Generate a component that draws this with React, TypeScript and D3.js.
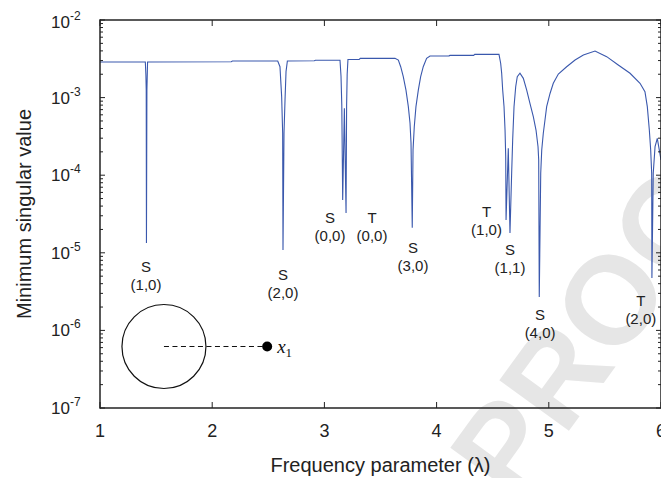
import React from 'react';
import * as d3 from 'd3';

const W = 661;
const H = 478;
const M = { left: 100, right: 0, top: 20, bottom: 70 };

// frequency parameter (lambda)
const freq = [
  1.0, 1.404, 1.409, 1.412, 1.414, 1.418, 1.424,
  2.17, 2.18, 2.584, 2.604, 2.619, 2.628, 2.631, 2.64, 2.649, 2.658, 2.67,
  2.91, 2.92, 3.139, 3.148, 3.155, 3.163, 3.178, 3.193, 3.198, 3.203, 3.21,
  3.31, 3.32, 3.629, 3.659, 3.68, 3.703, 3.727, 3.748, 3.763, 3.772, 3.783,
  3.79, 3.801, 3.816, 3.837, 3.858, 3.881, 3.911, 3.941,
  4.11, 4.12, 4.33, 4.34, 4.556, 4.571, 4.58, 4.589, 4.601, 4.61, 4.616, 4.619,
  4.639, 4.654, 4.669, 4.678, 4.69, 4.705, 4.719, 4.743, 4.773, 4.803, 4.832,
  4.862, 4.886, 4.904, 4.91, 4.915, 4.928, 4.937, 4.951, 4.966, 4.981, 5.011,
  5.04, 5.085, 5.159, 5.234, 5.308, 5.412, 5.516, 5.619, 5.724, 5.813, 5.857,
  5.878, 5.896, 5.908, 5.917, 5.919, 5.931, 5.947, 5.967, 5.985, 6.0,
];

// minimum singular value
const minSV = [
  2.88e-3, 2.88e-3, 1.95e-3, 1.25e-3, 1.34e-5, 1.25e-3, 2.88e-3,
  2.9e-3, 2.96e-3, 2.96e-3, 2.5e-3, 1.03e-3, 3.5e-4, 1.09e-5, 3.5e-4, 9.3e-4, 2.16e-3, 2.96e-3,
  2.98e-3, 3.03e-3, 3.03e-3, 1.9e-3, 8.0e-4, 4.8e-5, 7.3e-4, 3.26e-5, 8.0e-4, 2.0e-3, 3.1e-3,
  3.1e-3, 3.2e-3, 3.22e-3, 3.05e-3, 2.5e-3, 1.86e-3, 1.25e-3, 7.64e-4, 4.71e-4, 2.6e-4, 2.1e-5,
  2.11e-4, 4.22e-4, 7.64e-4, 1.25e-3, 1.86e-3, 2.5e-3, 3.2e-3, 3.43e-3,
  3.45e-3, 3.5e-3, 3.5e-3, 3.62e-3, 3.61e-3, 2.77e-3, 2.06e-3, 1.25e-3, 7.64e-4, 3.82e-4, 1.73e-4, 2.65e-5,
  2.22e-4, 1.8e-5, 1.07e-4, 2.84e-4, 7.64e-4, 1.38e-3, 1.86e-3, 2.06e-3, 1.77e-3, 1.25e-3, 8.45e-4,
  5.68e-4, 3.82e-4, 2.33e-4, 1.57e-4, 2.69e-6, 1.06e-4, 2.11e-4, 3.47e-4, 5.14e-4, 7.64e-4, 1.13e-3,
  1.53e-3, 2.01e-3, 2.5e-3, 3.05e-3, 3.54e-3, 3.98e-3, 3.37e-3, 2.63e-3, 2.06e-3, 1.53e-3, 1.19e-3,
  7.64e-4, 3.82e-4, 2.11e-4, 1.06e-4, 4.73e-6, 1.07e-4, 2.33e-4, 2.99e-4, 2.11e-4, 1.57e-4,
];

const xTicks = [1, 2, 3, 4, 5, 6];
const yExponents = [-7, -6, -5, -4, -3, -2];

// mode annotations
const modeType = ['S', 'S', 'S', 'T', 'S', 'T', 'S', 'S', 'T'];
const modeIndex = ['(1,0)', '(2,0)', '(0,0)', '(0,0)', '(3,0)', '(1,0)', '(1,1)', '(4,0)', '(2,0)'];
const modeFreq = [1.41, 2.631, 3.05, 3.424, 3.79, 4.445, 4.654, 4.922, 5.82];
const modeValue = [5.66e-6, 4.46e-6, 2.44e-5, 2.44e-5, 9.93e-6, 2.89e-5, 9.37e-6, 1.36e-6, 2.06e-6];

const font = '"Liberation Sans", Arial, Helvetica, sans-serif';

export default function App() {
  const x = d3.scaleLinear().domain([1, 6]).range([M.left, W - M.right]);
  const y = d3.scaleLog().domain([1e-7, 1e-2]).range([H - M.bottom, M.top]);
  const data = freq.map((f, i) => [f, minSV[i]] as [number, number]);
  const line = d3
    .line<[number, number]>()
    .x((d) => x(d[0]))
    .y((d) => y(d[1]));

  const x0 = M.left;
  const x1 = W - M.right;
  const y0 = H - M.bottom;
  const y1 = M.top;

  const minor: number[] = [];
  for (let e = -7; e < -2; e++) for (let k = 2; k <= 9; k++) minor.push(k * Math.pow(10, e));

  // inset schematic (position inside plot area)
  const cx = x(1.57);
  const cy = y(6.2e-7);
  const r = 42;
  const dotX = x(2.49);

  return (
    <svg
      width={W}
      height={H}
      style={{ position: 'absolute', left: 0, top: 0, background: '#fff' }}
      fontFamily={font}
    >
      <defs>
        <clipPath id="plotclip">
          <rect x={x0} y={y1} width={x1 - x0} height={y0 - y1} />
        </clipPath>
      </defs>
      <rect x={0} y={0} width={W} height={H} fill="#fff" />

      {/* watermark */}
      <g transform="translate(515,505) rotate(-54)">
        <text x={0} y={0} fontSize={125} fontWeight="bold" fill="#e6e6e6" fontFamily={font}>
          PROOF
        </text>
      </g>

      {/* curve */}
      <path
        d={line(data) || ''}
        fill="none"
        stroke="#3a58ad"
        strokeWidth={1.1}
        clipPath="url(#plotclip)"
      />

      {/* frame */}
      <g stroke="#222" strokeWidth={1.5} fill="none">
        <line x1={x0} y1={y0} x2={x1} y2={y0} />
        <line x1={x0} y1={y1} x2={x1} y2={y1} />
        <line x1={x0} y1={y0 + 0.75} x2={x0} y2={y1 - 0.75} />
        <line x1={x1} y1={y0} x2={x1} y2={y1} />
      </g>

      {/* x ticks */}
      <g stroke="#222" strokeWidth={1}>
        {xTicks.map((t) => (
          <g key={'xt' + t}>
            <line x1={x(t)} x2={x(t)} y1={y0} y2={y0 - 6} />
            <line x1={x(t)} x2={x(t)} y1={y1} y2={y1 + 6} />
          </g>
        ))}
      </g>
      {xTicks.map((t) => (
        <text key={'xl' + t} x={x(t)} y={437} fontSize={18} textAnchor="middle" fill="#222">
          {t}
        </text>
      ))}

      {/* y ticks */}
      <g stroke="#222" strokeWidth={1}>
        {yExponents.map((e) => (
          <g key={'yt' + e}>
            <line x1={x0} x2={x0 + 5} y1={y(Math.pow(10, e))} y2={y(Math.pow(10, e))} />
            <line x1={x1} x2={x1 - 5} y1={y(Math.pow(10, e))} y2={y(Math.pow(10, e))} />
          </g>
        ))}
        {minor.map((v, i) => (
          <g key={'ym' + i}>
            <line x1={x0} x2={x0 + 3} y1={y(v)} y2={y(v)} />
            <line x1={x1} x2={x1 - 3} y1={y(v)} y2={y(v)} />
          </g>
        ))}
      </g>
      {yExponents.map((e) => (
        <text
          key={'yl' + e}
          x={51}
          y={y(Math.pow(10, e)) + (e === -2 ? 8 : 6)}
          fontSize={17}
          fill="#222"
        >
          10
          <tspan dy={-8} fontSize={12}>
            {String(e)}
          </tspan>
        </text>
      ))}

      {/* axis titles */}
      <text x={(x0 + x1) / 2} y={472} fontSize={20} textAnchor="middle" fill="#222">
        Frequency parameter (λ)
      </text>
      <text
        transform={`translate(31,${(y0 + y1) / 2}) rotate(-90)`}
        fontSize={20}
        textAnchor="middle"
        fill="#222"
      >
        Minimum singular value
      </text>

      {/* mode labels */}
      {modeType.map((m, i) => (
        <g key={'ml' + i} fill="#222" fontSize={15} textAnchor="middle">
          <text x={x(modeFreq[i])} y={y(modeValue[i])}>
            {m}
          </text>
          <text x={x(modeFreq[i])} y={y(modeValue[i]) + 18}>
            {modeIndex[i]}
          </text>
        </g>
      ))}

      {/* inset schematic */}
      <circle cx={cx} cy={cy} r={r} fill="none" stroke="#111" strokeWidth={1.2} />
      <line
        x1={cx}
        y1={cy}
        x2={dotX}
        y2={cy}
        stroke="#111"
        strokeWidth={1.2}
        strokeDasharray="5,3.5"
      />
      <circle cx={dotX} cy={cy} r={5} fill="#000" />
      <text
        x={dotX + 10}
        y={cy + 6}
        fontFamily='"Liberation Serif", "Times New Roman", serif'
        fontStyle="italic"
        fontSize={19}
        fill="#111"
      >
        x
        <tspan dy={4} fontSize={13} fontStyle="normal">
          1
        </tspan>
      </text>
    </svg>
  );
}
